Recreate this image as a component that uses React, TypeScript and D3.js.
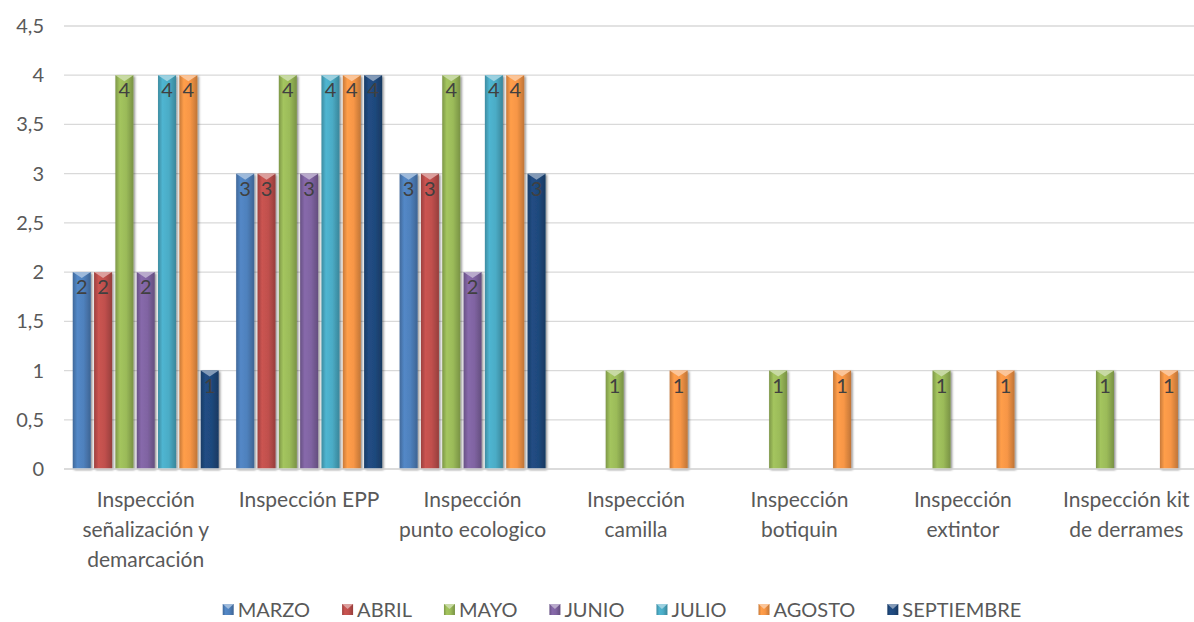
import React, { useEffect, useRef } from "react";
import * as d3 from "d3";

const categories: string[][] = [
  ["Inspección", "señalización y", "demarcación"],
  ["Inspección EPP"],
  ["Inspección", "punto ecologico"],
  ["Inspección", "camilla"],
  ["Inspección", "botiquin"],
  ["Inspección", "extintor"],
  ["Inspección kit", "de derrames"],
];
const seriesNames = ["MARZO", "ABRIL", "MAYO", "JUNIO", "JULIO", "AGOSTO", "SEPTIEMBRE"];
const seriesColors = ["#4F81BD", "#C0504D", "#9BBB59", "#8064A2", "#4BACC6", "#F79646", "#1F497D"];
const marzo = [2, 3, 3, 0, 0, 0, 0];
const abril = [2, 3, 3, 0, 0, 0, 0];
const mayo = [4, 4, 4, 1, 1, 1, 1];
const junio = [2, 3, 2, 0, 0, 0, 0];
const julio = [4, 4, 4, 0, 0, 0, 0];
const agosto = [4, 4, 4, 1, 1, 1, 1];
const septiembre = [1, 4, 3, 0, 0, 0, 0];
const seriesValues = [marzo, abril, mayo, junio, julio, agosto, septiembre];
const yTicks = [0, 0.5, 1, 1.5, 2, 2.5, 3, 3.5, 4, 4.5];

const W = 1194;
const H = 622;
const FONT = "Lato, 'Open Sans', sans-serif";

export default function App() {
  const ref = useRef<SVGSVGElement | null>(null);

  useEffect(() => {
    const svg = d3.select(ref.current);
    svg.selectAll("*").remove();

    const left = 64, right = 1208, top = 26, bottom = 469;
    const x0 = d3.scaleBand<number>().domain(categories.map((_, i) => i)).range([left, right]).paddingInner(0).paddingOuter(0);
    const x1 = d3.scaleBand<number>().domain(seriesNames.map((_, i) => i)).range([0, x0.bandwidth()]).paddingOuter(0.41).paddingInner(0.155);
    const y = d3.scaleLinear().domain([0, 4.5]).range([bottom, top]);

    const defs = svg.append("defs");
    const f = defs.append("filter").attr("id", "sh").attr("x", "-30%").attr("y", "-10%").attr("width", "160%").attr("height", "120%");
    f.append("feDropShadow").attr("dx", 1.5).attr("dy", 1).attr("stdDeviation", 1.3).attr("flood-color", "#000").attr("flood-opacity", 0.45);

    seriesColors.forEach((c, i) => {
      const base = d3.rgb(c);
      const g = defs.append("linearGradient").attr("id", "g" + i).attr("x1", "0").attr("x2", "1").attr("y1", "0").attr("y2", "0");
      g.append("stop").attr("offset", "0").attr("stop-color", base.darker(0.6).formatHex());
      g.append("stop").attr("offset", "0.25").attr("stop-color", base.brighter(0.15).formatHex());
      g.append("stop").attr("offset", "0.6").attr("stop-color", base.formatHex());
      g.append("stop").attr("offset", "1").attr("stop-color", base.darker(0.7).formatHex());
    });

    // gridlines
    svg.append("g").selectAll("line").data(yTicks).join("line")
      .attr("x1", left).attr("x2", right).attr("y1", (d) => y(d)).attr("y2", (d) => y(d))
      .attr("stroke", "#D9D9D9").attr("stroke-width", 1.3);

    // y labels
    svg.append("g").selectAll("text").data(yTicks).join("text")
      .attr("x", 44).attr("y", (d) => y(d)).attr("dy", "0.35em").attr("text-anchor", "end")
      .attr("font-family", FONT).attr("font-size", 20).attr("fill", "#595959")
      .text((d) => d3.format(".1~f")(d).replace(".", ","));

    // bars
    const bars: { ci: number; si: number; v: number }[] = [];
    categories.forEach((_, ci) => seriesValues.forEach((vals, si) => { if (vals[ci] > 0) bars.push({ ci, si, v: vals[ci] }); }));
    const bw = x1.bandwidth();
    const bg = svg.append("g");
    bars.forEach((b) => {
      const bx = (x0(b.ci) as number) + (x1(b.si) as number);
      const by = y(b.v);
      const g = bg.append("g");
      g.append("rect").attr("x", bx).attr("y", by).attr("width", bw).attr("height", y(0) - by)
        .attr("fill", `url(#g${b.si})`).attr("filter", "url(#sh)");
      const light = d3.interpolateRgb(seriesColors[b.si], "#ffffff")(0.45);
      g.append("polygon")
        .attr("points", `${bx},${by} ${bx + bw},${by} ${bx + bw / 2},${by + 6}`)
        .attr("fill", light);
      g.append("text").attr("x", bx + bw / 2).attr("y", by + 15).attr("dy", "0.35em").attr("text-anchor", "middle")
        .attr("font-family", FONT).attr("font-size", 20).attr("fill", "#404040").text(b.v);
    });

    // baseline
    svg.append("line").attr("x1", left).attr("x2", right).attr("y1", bottom).attr("y2", bottom)
      .attr("stroke", "#D9D9D9").attr("stroke-width", 1.3);

    // category labels
    categories.forEach((lines, ci) => {
      const cx = (x0(ci) as number) + x0.bandwidth() / 2;
      const t = svg.append("text").attr("text-anchor", "middle").attr("font-family", FONT)
        .attr("font-size", 21).attr("fill", "#595959");
      lines.forEach((ln, li) => {
        t.append("tspan").attr("x", cx).attr("y", 500 + li * 30).attr("dy", "0.35em").text(ln);
      });
    });

    // legend
    const lg = svg.append("g");
    const items: { w: number; g: any }[] = [];
    seriesNames.forEach((n, i) => {
      const g = lg.append("g");
      g.append("rect").attr("x", 0).attr("y", -6).attr("width", 11).attr("height", 11).attr("fill", `url(#g${i})`);
      g.append("polygon").attr("points", `0,-6 11,-6 5.5,-1`).attr("fill", d3.interpolateRgb(seriesColors[i], "#ffffff")(0.45));
      const t = g.append("text").attr("x", 15).attr("y", 0).attr("dy", "0.35em").attr("font-family", FONT)
        .attr("font-size", 20).attr("fill", "#595959").text(n);
      const tw = (t.node() as SVGTextElement).getComputedTextLength();
      items.push({ w: 15 + tw, g });
    });
    const gap = 32;
    const total = d3.sum(items, (d) => d.w) + gap * (items.length - 1);
    let cx = 622 - total / 2;
    items.forEach((it) => { it.g.attr("transform", `translate(${cx},610)`); cx += it.w + gap; });
  }, []);

  return (
    <svg ref={ref} width={W} height={H} style={{ display: "block", position: "absolute", left: 0, top: 0, background: "#fff" }} />
  );
}
